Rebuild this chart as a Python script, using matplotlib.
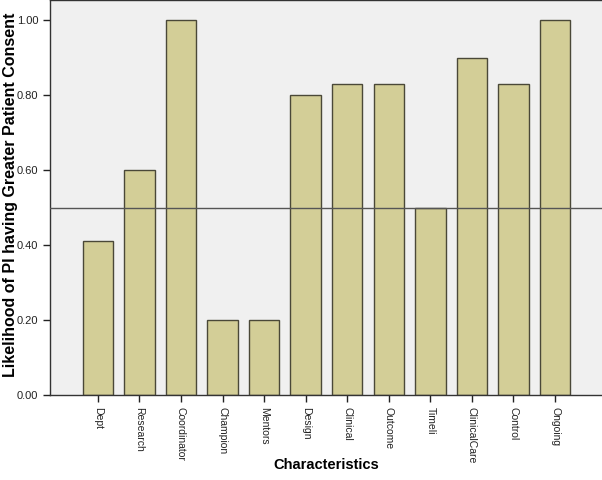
import matplotlib
matplotlib.use("Agg")
import matplotlib.pyplot as plt

categories = ["Dept", "Research", "Coordinator", "Champion", "Mentors", "Design",
              "Clinical", "Outcome", "Timeli", "ClinicalCare", "Control", "Ongoing"]
values = [0.41, 0.60, 1.00, 0.20, 0.20, 0.80, 0.83, 0.83, 0.50, 0.90, 0.83, 1.00]
yticks = [0.0, 0.2, 0.4, 0.6, 0.8, 1.0]
ref_value = 0.5

plt.rcParams['font.family'] = ['Liberation Sans', 'DejaVu Sans']
fig = plt.figure(figsize=(6.02, 4.80), dpi=100)
ax = fig.add_axes([50/602, 85/480, 552/602, 395/480])
ax.set_facecolor("#f0f0f0")
x = list(range(len(categories)))
ax.bar(x, values, width=0.73, color="#d3ce97", edgecolor="#4a4838", linewidth=1.0, zorder=2)
ax.axhline(ref_value, color="#555555", linewidth=1.0, zorder=3)
ax.set_xlim(-1.15, len(categories) - 1 + 1.13)
ax.set_ylim(0, 395/375)
ax.set_yticks(yticks)
ax.set_yticklabels([f"{v:.2f}" for v in yticks], fontsize=8, color="#222222")
ax.set_xticks(x)
ax.set_xticklabels(categories, rotation=270, fontsize=7.5, color="#222222")
ax.tick_params(axis='both', length=5, width=1, color="#222222")
for s in ["left", "bottom", "top"]:
    ax.spines[s].set_color("#333333")
    ax.spines[s].set_linewidth(1.0)
ax.spines["right"].set_visible(False)
ax.set_ylabel("Likelihood of PI having Greater Patient Consent", fontsize=11.5, fontweight="bold", va="center")
ax.yaxis.set_label_coords(-0.072, 0.506)
ax.set_xlabel("Characteristics", fontsize=10.5, fontweight="bold", va="center")
ax.xaxis.set_label_coords(0.5, -0.177)
fig.savefig("out.png", dpi=100)
